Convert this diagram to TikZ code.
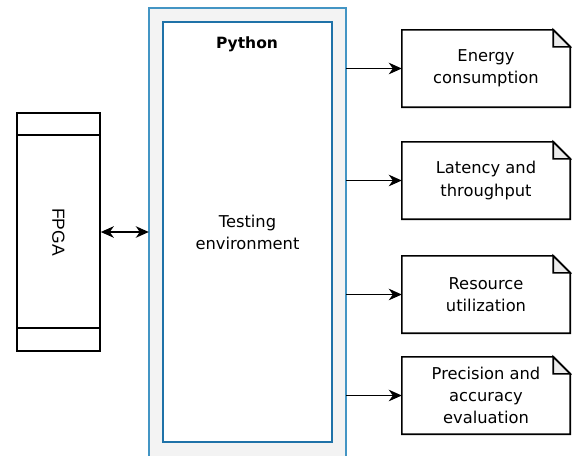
\documentclass[tikz,border=0pt]{standalone}
\usepackage{fontspec}
\setmainfont{DejaVu Sans}
\newfontfamily\arialfont{Liberation Sans}
\usetikzlibrary{arrows.meta}
\definecolor{outerblue}{HTML}{4395C4}
\definecolor{innerblue}{HTML}{1F72A8}
\definecolor{panelgray}{HTML}{F3F3F3}
\definecolor{foldgray}{HTML}{EBEBEB}
\tikzset{
  txt/.style={font=\fontsize{16.3}{22}\selectfont, align=center},
  notebox/.style={minimum width=168pt, minimum height=77pt, inner sep=0pt, txt},
  arr/.style={line width=1.6pt, -{Stealth[length=13pt,width=11.5pt,inset=4pt]}},
  dblarr/.style={line width=1.6pt, {Stealth[length=13pt,width=11.5pt,inset=4pt]}-{Stealth[length=13pt,width=11.5pt,inset=4pt]}},
  outline/.style={line width=1.6pt, black},
}
\newcommand{\mynote}[3]{%
  \node[notebox] (#1) at (486,#2) {#3};
  \filldraw[outline, fill=foldgray, line join=miter]
    ([xshift=-17pt]#1.north east) -- ([xshift=-17pt,yshift=-17pt]#1.north east) -- ([yshift=-17pt]#1.north east) -- cycle;
  \draw[outline, line join=miter]
    (#1.south west) -- (#1.north west) -- ([xshift=-17pt]#1.north east) -- ([yshift=-17pt]#1.north east) -- (#1.south east) -- cycle;
}
\begin{document}
\begin{tikzpicture}[x=1pt,y=-1pt]
\useasboundingbox (0,0) rectangle (572,455);
% outer panel (cut at bottom)
\node[minimum width=197pt, minimum height=470pt, inner sep=0pt] (py) at (247.5,243) {};
\fill[panelgray] (py.south west) rectangle (py.north east);
\draw[outerblue, line width=1.9pt] (py.south west) -- (py.north west) -- (py.north east) -- (py.south east);
% inner box
\node[draw=innerblue, line width=1.8pt, fill=white, minimum width=169pt, minimum height=420pt, inner sep=0pt, txt] (env) at (247.5,232) {Testing\\environment};
\node[font=\bfseries\fontsize{15.5}{18}\selectfont] (pylabel) at (247,44) {Python};
% FPGA
\node[outline, draw, minimum width=83pt, minimum height=238pt, inner sep=0pt] (fpga) at (58.5,232) {};
\draw[outline] ([yshift=-23pt]fpga.north west) -- ([yshift=-23pt]fpga.north east);
\draw[outline] ([yshift=24pt]fpga.south west) -- ([yshift=24pt]fpga.south east);
\node[rotate=-90, font=\arialfont\fontsize{17.5}{20}\selectfont] (fpgalabel) at (fpga.center) {FPGA};
\draw[dblarr] (fpga.east) -- (fpga.east -| py.west);
% notes
\mynote{e1}{68.5}{Energy\\consumption}
\mynote{e2}{180.5}{Latency and\\throughput}
\mynote{e3}{294.5}{Resource\\utilization}
\mynote{e4}{395.5}{Precision and\\accuracy\\evaluation}
\foreach \n in {e1,e2,e3,e4}{
  \draw[arr] (py.east |- \n.west) -- (\n.west);
}
\end{tikzpicture}
\end{document}
